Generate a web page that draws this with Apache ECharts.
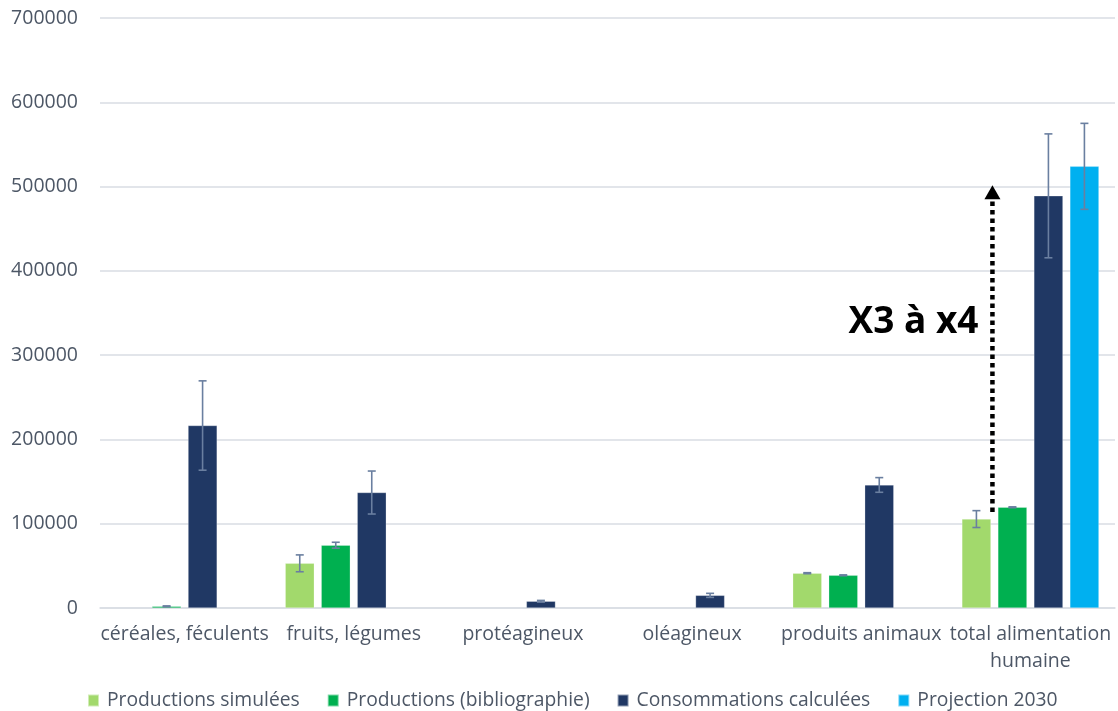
<!DOCTYPE html>
<html>
<head>
<meta charset="utf-8">
<script src="https://cdn.jsdelivr.net/npm/echarts@6/dist/echarts.min.js"></script>
<style>html,body{margin:0;padding:0;background:#fff;}#c{width:1118px;height:711px;}</style>
</head>
<body>
<div id="c"></div>
<script>
var categories = ['céréales, féculents', 'fruits, légumes', 'protéagineux', 'oléagineux', 'produits animaux', 'total alimentation\nhumaine'];
var seriesNames = ['Productions simulées', 'Productions (bibliographie)', 'Consommations calculées', 'Projection 2030'];
var prodSim = [null, 53000, null, null, 41300, 105500];
var prodSimErr = [null, 10000, null, null, 600, 10000];
var prodBib = [2000, 74500, null, null, 38800, 119500];
var prodBibErr = [500, 3500, null, null, 500, 500];
var conso = [216500, 137000, 8000, 15000, 146000, 489000];
var consoErr = [53000, 25500, 1000, 2400, 8700, 73500];
var proj = [null, null, null, null, null, 524000];
var projErr = [null, null, null, null, null, 51000];
var yTicks = [0, 100000, 200000, 300000, 400000, 500000, 600000, 700000];
var arrowFrom = 114000, arrowTo = 501500;
var annotationText = 'X3 à x4';
var annotationValue = 339000;

var colors = ['#a2d96c', '#00b050', '#203864', '#00b0f0'];
var values = [prodSim, prodBib, conso, proj];
var errs = [prodSimErr, prodBibErr, consoErr, projErr];
var CAT_GAP = 0.19, BAR_GAP = 0.24, N = 4;

function barGeom(api, catIdx, si) {
  var c = api.coord([catIdx, 0])[0];
  var band = api.size([1, 0])[0];
  var usable = band * (1 - CAT_GAP);
  var bw = usable / (N + (N - 1) * BAR_GAP);
  var total = bw * N + bw * BAR_GAP * (N - 1);
  var center = c - total / 2 + bw / 2 + si * bw * (1 + BAR_GAP);
  return {center: center, bw: bw};
}

var errData = [];
values.forEach(function (arr, si) {
  arr.forEach(function (v, i) {
    if (v != null && errs[si][i] != null) errData.push([i, si, v, errs[si][i]]);
  });
});

var series = values.map(function (arr, si) {
  return {
    name: seriesNames[si], type: 'bar', data: arr,
    barCategoryGap: (CAT_GAP * 100) + '%', barGap: (BAR_GAP * 100) + '%',
    itemStyle: {color: colors[si], borderColor: 'rgba(255,255,255,0.5)', borderWidth: 0.5},
    z: 2
  };
});

series.push({
  type: 'custom', name: 'err', data: errData, z: 5, silent: true,
  encode: {x: 0, y: 2},
  renderItem: function (params, api) {
    var ci = api.value(0), si = api.value(1), v = api.value(2), e = api.value(3);
    var g = barGeom(api, ci, si);
    var top = api.coord([ci, v + e])[1];
    var bot = api.coord([ci, Math.max(v - e, 0)])[1];
    var x = g.center, cap = 4;
    var st = {stroke: '#6a7fa0', lineWidth: 1.6};
    return {type: 'group', children: [
      {type: 'line', shape: {x1: x, y1: top, x2: x, y2: bot}, style: st},
      {type: 'line', shape: {x1: x - cap, y1: top, x2: x + cap, y2: top}, style: st},
      {type: 'line', shape: {x1: x - cap, y1: bot, x2: x + cap, y2: bot}, style: st}
    ]};
  }
});

series.push({
  type: 'custom', name: 'arrow', data: [[5, arrowFrom, arrowTo, annotationValue]], z: 6, silent: true,
  encode: {x: 0, y: 1},
  renderItem: function (params, api) {
    var ci = api.value(0);
    var g = barGeom(api, ci, 0);
    var x = g.center + g.bw / 2 + 1.5;
    var y1 = api.coord([ci, api.value(1)])[1];
    var y2 = api.coord([ci, api.value(2)])[1];
    var ty = api.coord([ci, api.value(3)])[1];
    return {type: 'group', children: [
      {type: 'line', shape: {x1: x, y1: y1, x2: x, y2: y2 + 13}, style: {stroke: '#000', lineWidth: 4.5, lineDash: [4.5, 4]}},
      {type: 'polygon', shape: {points: [[x, y2], [x - 8, y2 + 14], [x + 8, y2 + 14]]}, style: {fill: '#000'}},
      {type: 'text', x: x - 14, y: ty, style: {text: annotationText, fill: '#000', font: 'bold 37px "Open Sans"', textAlign: 'right', textVerticalAlign: 'middle'}}
    ]};
  }
});

var chart = echarts.init(document.getElementById('c'));
chart.setOption({
  animation: false,
  backgroundColor: '#fff',
  grid: {left: 100, right: 3, top: 18, bottom: 103},
  legend: {
    data: seriesNames, top: 686, left: 82, itemWidth: 11, itemHeight: 12, itemGap: 27,
    icon: 'rect',
    textStyle: {color: '#4d5766', fontSize: 19.3, fontFamily: 'Open Sans', padding: [0, 0, 0, 3]}
  },
  xAxis: {
    type: 'category', data: categories,
    axisLine: {lineStyle: {color: '#d9dde3', width: 1.5}},
    axisTick: {show: false},
    axisLabel: {color: '#4d5766', fontSize: 19.5, fontFamily: 'Open Sans', margin: 13, lineHeight: 27, interval: 0}
  },
  yAxis: {
    type: 'value', min: yTicks[0], max: yTicks[yTicks.length - 1], interval: yTicks[1] - yTicks[0],
    axisLine: {show: false}, axisTick: {show: false},
    splitLine: {lineStyle: {color: '#d9dde3', width: 1.5}},
    axisLabel: {color: '#4d5766', fontSize: 19.5, fontFamily: 'Open Sans', margin: 22, formatter: function (v) { return String(v); }}
  },
  series: series
});
</script>
</body>
</html>
